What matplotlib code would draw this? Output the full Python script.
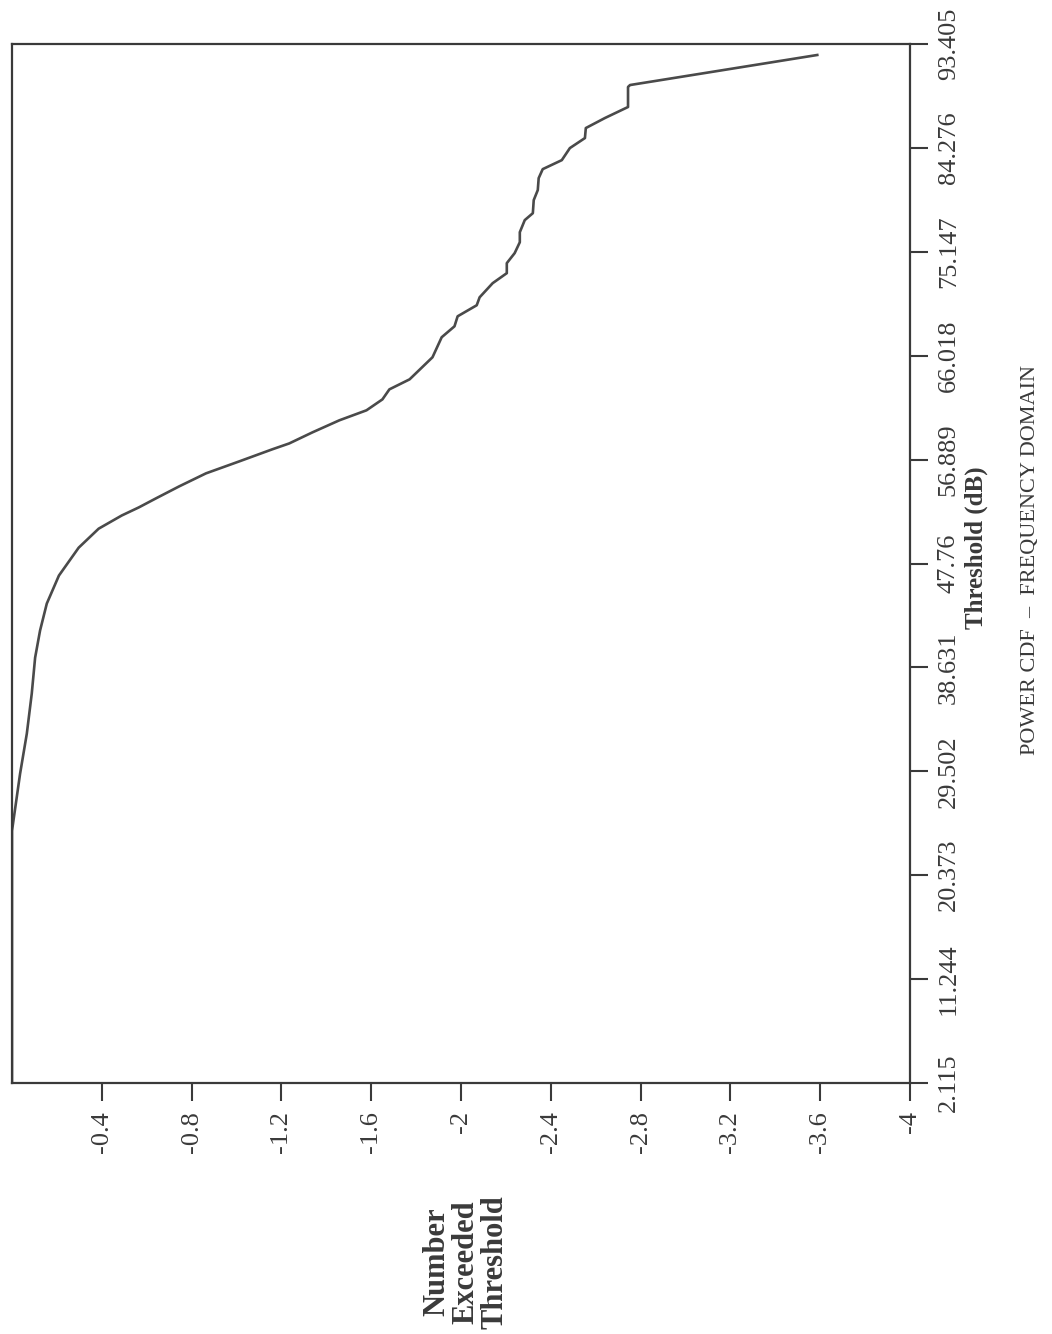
import matplotlib
matplotlib.use("Agg")
import matplotlib.pyplot as plt

# --- Data ---
# number exceeded threshold (horizontal axis) vs threshold in dB (vertical axis)
exceeded = [0.0, 0.0, -0.036, -0.066, -0.088, -0.103, -0.125, -0.155, -0.209,
            -0.297, -0.386, -0.489, -0.565, -0.641, -0.744, -0.864, -1.012,
            -1.159, -1.235, -1.338, -1.458, -1.579, -1.650, -1.681, -1.771,
            -1.873, -1.914, -1.971, -1.985, -2.070, -2.083, -2.141, -2.204,
            -2.204, -2.239, -2.262, -2.262, -2.284, -2.320, -2.324, -2.342,
            -2.346, -2.364, -2.449, -2.485, -2.552, -2.556, -2.641, -2.744,
            -2.744, -2.753, -3.587]
threshold = [2.115, 24.28, 29.29, 32.81, 36.33, 39.49, 41.87, 44.24, 46.70,
             49.15, 50.82, 51.98, 52.69, 53.48, 54.53, 55.68, 56.73,
             57.79, 58.31, 59.28, 60.34, 61.22, 62.18, 63.06, 63.94,
             65.88, 67.64, 68.60, 69.48, 70.45, 71.15, 72.39, 73.27,
             74.15, 75.03, 75.99, 76.87, 77.93, 78.54, 79.69, 80.57,
             81.62, 82.41, 83.20, 84.26, 85.14, 86.02, 86.90, 87.87,
             89.63, 89.80, 92.44]

count_ticks = [-0.4, -0.8, -1.2, -1.6, -2.0, -2.4, -2.8, -3.2, -3.6, -4.0]
count_labels = ["-0.4", "-0.8", "-1.2", "-1.6", "-2", "-2.4", "-2.8", "-3.2",
                "-3.6", "-4"]
thr_ticks = [2.115, 11.244, 20.373, 29.502, 38.631, 47.76, 56.889, 66.018,
             75.147, 84.276, 93.405]
thr_labels = ["2.115", "11.244", "20.373", "29.502", "38.631", "47.76",
              "56.889", "66.018", "75.147", "84.276", "93.405"]

INK = "#3a3a3a"
SERIF = ["Liberation Serif", "DejaVu Serif"]

fig = plt.figure(figsize=(10.52, 13.34), dpi=100)
W, H = 1052.0, 1334.0
ax = fig.add_axes([12 / W, 1 - 1083 / H, 898 / W, 1039 / H])

ax.plot(exceeded, threshold, color="#4a4a4a", lw=1.9)

ax.set_xlim(0, -4)
ax.set_ylim(2.115, 93.405)

ax.set_xticks(count_ticks)
ax.set_xticklabels(count_labels, rotation=90, family=SERIF, fontsize=19,
                   color=INK)
ax.yaxis.tick_right()
ax.set_yticks(thr_ticks)
ax.set_yticklabels(thr_labels, rotation=90, va="center", family=SERIF,
                   fontsize=19, color=INK)

ax.tick_params(axis="both", direction="out", length=13, width=1.5,
               color=INK)
ax.tick_params(axis="x", pad=7)
ax.tick_params(axis="y", pad=7)
for sp in ax.spines.values():
    sp.set_linewidth(1.6)
    sp.set_color(INK)

# rotated titles (the page is printed sideways)
fig.text(976 / W, 1 - 548 / H, "Threshold (dB)", rotation=90, ha="center",
         va="center", family=SERIF, fontsize=18, fontweight="bold",
         color=INK)
fig.text(1030 / W, 1 - 560 / H, "POWER CDF  \u2013  FREQUENCY DOMAIN",
         rotation=90, ha="center", va="center", family=SERIF, fontsize=16,
         color=INK)
fig.text(466 / W, 1 - 1262 / H, "Number\nExceeded\nThreshold", rotation=90,
         ha="center", va="center", multialignment="center", linespacing=1.0,
         family=SERIF, fontsize=22, fontweight="bold", color=INK)

fig.savefig("out.png", dpi=100)
